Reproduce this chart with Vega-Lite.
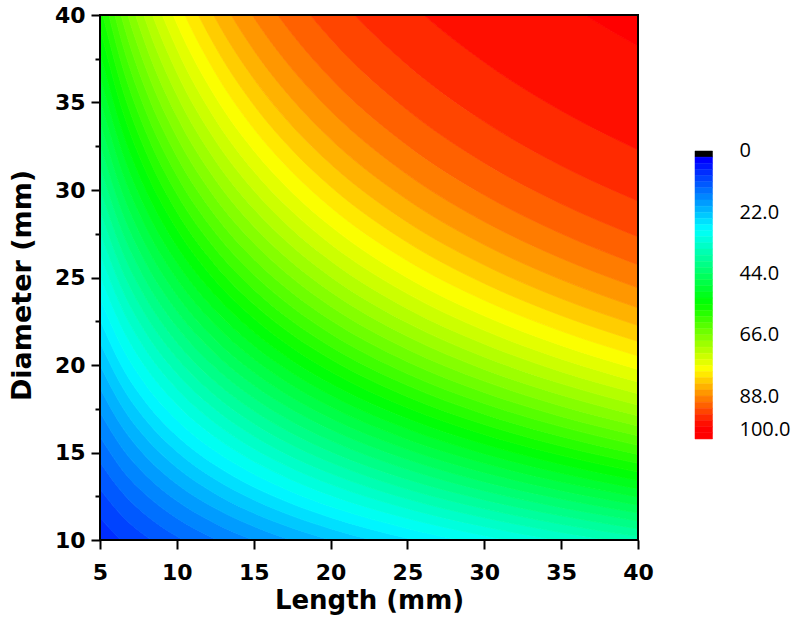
{
"$schema": "https://vega.github.io/schema/vega-lite/v6.json",
"width": 538,
"height": 525,
"autosize": {"type": "none"},
"padding": {"left": 100, "top": 15, "right": 162, "bottom": 104},
"background": "white",
"config": {"view": {"stroke": null}},
"datasets": {
"contours": [
{"level":6.6,"L":5,"D":9.48},{"level":6.6,"L":6.5,"D":8.32},{"level":6.6,"L":8,"D":7.5},{"level":6.6,"L":10,"D":6.7},{"level":6.6,"L":12.5,"D":6.0},{"level":6.6,"L":15,"D":5.47},{"level":6.6,"L":17.5,"D":5.07},{"level":6.6,"L":20,"D":4.74},{"level":6.6,"L":25,"D":4.24},{"level":6.6,"L":30,"D":3.87},{"level":6.6,"L":35,"D":3.58},{"level":6.6,"L":40,"D":3.35},
{"level":8.8,"L":5,"D":11.27},{"level":8.8,"L":6.5,"D":9.88},{"level":8.8,"L":8,"D":8.91},{"level":8.8,"L":10,"D":7.97},{"level":8.8,"L":12.5,"D":7.13},{"level":8.8,"L":15,"D":6.51},{"level":8.8,"L":17.5,"D":6.02},{"level":8.8,"L":20,"D":5.63},{"level":8.8,"L":25,"D":5.04},{"level":8.8,"L":30,"D":4.6},{"level":8.8,"L":35,"D":4.26},{"level":8.8,"L":40,"D":3.98},
{"level":11,"L":5,"D":12.91},{"level":11,"L":6.5,"D":11.32},{"level":11,"L":8,"D":10.21},{"level":11,"L":10,"D":9.13},{"level":11,"L":12.5,"D":8.17},{"level":11,"L":15,"D":7.45},{"level":11,"L":17.5,"D":6.9},{"level":11,"L":20,"D":6.46},{"level":11,"L":25,"D":5.77},{"level":11,"L":30,"D":5.27},{"level":11,"L":35,"D":4.88},{"level":11,"L":40,"D":4.56},
{"level":13.2,"L":5,"D":14.45},{"level":13.2,"L":6.5,"D":12.67},{"level":13.2,"L":8,"D":11.42},{"level":13.2,"L":10,"D":10.21},{"level":13.2,"L":12.5,"D":9.14},{"level":13.2,"L":15,"D":8.34},{"level":13.2,"L":17.5,"D":7.72},{"level":13.2,"L":20,"D":7.22},{"level":13.2,"L":25,"D":6.46},{"level":13.2,"L":30,"D":5.9},{"level":13.2,"L":35,"D":5.46},{"level":13.2,"L":40,"D":5.11},
{"level":15.4,"L":5,"D":15.91},{"level":15.4,"L":6.5,"D":13.95},{"level":15.4,"L":8,"D":12.58},{"level":15.4,"L":10,"D":11.25},{"level":15.4,"L":12.5,"D":10.06},{"level":15.4,"L":15,"D":9.18},{"level":15.4,"L":17.5,"D":8.5},{"level":15.4,"L":20,"D":7.95},{"level":15.4,"L":25,"D":7.11},{"level":15.4,"L":30,"D":6.49},{"level":15.4,"L":35,"D":6.01},{"level":15.4,"L":40,"D":5.62},
{"level":17.6,"L":5,"D":17.31},{"level":17.6,"L":6.5,"D":15.18},{"level":17.6,"L":8,"D":13.69},{"level":17.6,"L":10,"D":12.24},{"level":17.6,"L":12.5,"D":10.95},{"level":17.6,"L":15,"D":9.99},{"level":17.6,"L":17.5,"D":9.25},{"level":17.6,"L":20,"D":8.66},{"level":17.6,"L":25,"D":7.74},{"level":17.6,"L":30,"D":7.07},{"level":17.6,"L":35,"D":6.54},{"level":17.6,"L":40,"D":6.12},
{"level":19.8,"L":5,"D":18.67},{"level":19.8,"L":6.5,"D":16.38},{"level":19.8,"L":8,"D":14.76},{"level":19.8,"L":10,"D":13.2},{"level":19.8,"L":12.5,"D":11.81},{"level":19.8,"L":15,"D":10.78},{"level":19.8,"L":17.5,"D":9.98},{"level":19.8,"L":20,"D":9.34},{"level":19.8,"L":25,"D":8.35},{"level":19.8,"L":30,"D":7.62},{"level":19.8,"L":35,"D":7.06},{"level":19.8,"L":40,"D":6.6},
{"level":22,"L":5,"D":20.0},{"level":22,"L":6.5,"D":17.54},{"level":22,"L":8,"D":15.81},{"level":22,"L":10,"D":14.14},{"level":22,"L":12.5,"D":12.65},{"level":22,"L":15,"D":11.54},{"level":22,"L":17.5,"D":10.69},{"level":22,"L":20,"D":10.0},{"level":22,"L":25,"D":8.94},{"level":22,"L":30,"D":8.16},{"level":22,"L":35,"D":7.56},{"level":22,"L":40,"D":7.07},
{"level":24.2,"L":5,"D":21.3},{"level":24.2,"L":6.5,"D":18.68},{"level":24.2,"L":8,"D":16.84},{"level":24.2,"L":10,"D":15.06},{"level":24.2,"L":12.5,"D":13.47},{"level":24.2,"L":15,"D":12.3},{"level":24.2,"L":17.5,"D":11.38},{"level":24.2,"L":20,"D":10.65},{"level":24.2,"L":25,"D":9.52},{"level":24.2,"L":30,"D":8.69},{"level":24.2,"L":35,"D":8.05},{"level":24.2,"L":40,"D":7.53},
{"level":26.4,"L":5,"D":22.58},{"level":26.4,"L":6.5,"D":19.8},{"level":26.4,"L":8,"D":17.85},{"level":26.4,"L":10,"D":15.96},{"level":26.4,"L":12.5,"D":14.28},{"level":26.4,"L":15,"D":13.03},{"level":26.4,"L":17.5,"D":12.07},{"level":26.4,"L":20,"D":11.29},{"level":26.4,"L":25,"D":10.1},{"level":26.4,"L":30,"D":9.22},{"level":26.4,"L":35,"D":8.53},{"level":26.4,"L":40,"D":7.98},
{"level":28.6,"L":5,"D":23.85},{"level":28.6,"L":6.5,"D":20.91},{"level":28.6,"L":8,"D":18.85},{"level":28.6,"L":10,"D":16.86},{"level":28.6,"L":12.5,"D":15.08},{"level":28.6,"L":15,"D":13.77},{"level":28.6,"L":17.5,"D":12.75},{"level":28.6,"L":20,"D":11.92},{"level":28.6,"L":25,"D":10.66},{"level":28.6,"L":30,"D":9.73},{"level":28.6,"L":35,"D":9.01},{"level":28.6,"L":40,"D":8.43},
{"level":30.8,"L":5,"D":25.1},{"level":30.8,"L":6.5,"D":22.02},{"level":30.8,"L":8,"D":19.84},{"level":30.8,"L":10,"D":17.75},{"level":30.8,"L":12.5,"D":15.88},{"level":30.8,"L":15,"D":14.49},{"level":30.8,"L":17.5,"D":13.42},{"level":30.8,"L":20,"D":12.55},{"level":30.8,"L":25,"D":11.23},{"level":30.8,"L":30,"D":10.25},{"level":30.8,"L":35,"D":9.49},{"level":30.8,"L":40,"D":8.87},
{"level":33,"L":5,"D":26.35},{"level":33,"L":6.5,"D":23.11},{"level":33,"L":8,"D":20.83},{"level":33,"L":10,"D":18.64},{"level":33,"L":12.5,"D":16.67},{"level":33,"L":15,"D":15.22},{"level":33,"L":17.5,"D":14.09},{"level":33,"L":20,"D":13.18},{"level":33,"L":25,"D":11.79},{"level":33,"L":30,"D":10.76},{"level":33,"L":35,"D":9.96},{"level":33,"L":40,"D":9.32},
{"level":35.2,"L":5,"D":27.6},{"level":35.2,"L":6.5,"D":24.21},{"level":35.2,"L":8,"D":21.82},{"level":35.2,"L":10,"D":19.52},{"level":35.2,"L":12.5,"D":17.46},{"level":35.2,"L":15,"D":15.94},{"level":35.2,"L":17.5,"D":14.75},{"level":35.2,"L":20,"D":13.8},{"level":35.2,"L":25,"D":12.34},{"level":35.2,"L":30,"D":11.27},{"level":35.2,"L":35,"D":10.43},{"level":35.2,"L":40,"D":9.76},
{"level":37.4,"L":5,"D":28.85},{"level":37.4,"L":6.5,"D":25.3},{"level":37.4,"L":8,"D":22.81},{"level":37.4,"L":10,"D":20.4},{"level":37.4,"L":12.5,"D":18.25},{"level":37.4,"L":15,"D":16.66},{"level":37.4,"L":17.5,"D":15.42},{"level":37.4,"L":20,"D":14.43},{"level":37.4,"L":25,"D":12.9},{"level":37.4,"L":30,"D":11.78},{"level":37.4,"L":35,"D":10.9},{"level":37.4,"L":40,"D":10.2},
{"level":39.6,"L":5,"D":30.1},{"level":39.6,"L":6.5,"D":26.4},{"level":39.6,"L":8,"D":23.8},{"level":39.6,"L":10,"D":21.29},{"level":39.6,"L":12.5,"D":19.04},{"level":39.6,"L":15,"D":17.38},{"level":39.6,"L":17.5,"D":16.09},{"level":39.6,"L":20,"D":15.05},{"level":39.6,"L":25,"D":13.46},{"level":39.6,"L":30,"D":12.29},{"level":39.6,"L":35,"D":11.38},{"level":39.6,"L":40,"D":10.64},
{"level":41.8,"L":5,"D":31.36},{"level":41.8,"L":6.5,"D":27.51},{"level":41.8,"L":8,"D":24.79},{"level":41.8,"L":10,"D":22.18},{"level":41.8,"L":12.5,"D":19.84},{"level":41.8,"L":15,"D":18.11},{"level":41.8,"L":17.5,"D":16.76},{"level":41.8,"L":20,"D":15.68},{"level":41.8,"L":25,"D":14.03},{"level":41.8,"L":30,"D":12.8},{"level":41.8,"L":35,"D":11.85},{"level":41.8,"L":40,"D":11.09},
{"level":44,"L":5,"D":32.64},{"level":44,"L":6.5,"D":28.62},{"level":44,"L":8,"D":25.8},{"level":44,"L":10,"D":23.08},{"level":44,"L":12.5,"D":20.64},{"level":44,"L":15,"D":18.84},{"level":44,"L":17.5,"D":17.45},{"level":44,"L":20,"D":16.32},{"level":44,"L":25,"D":14.6},{"level":44,"L":30,"D":13.32},{"level":44,"L":35,"D":12.34},{"level":44,"L":40,"D":11.54},
{"level":46.2,"L":5,"D":33.92},{"level":46.2,"L":6.5,"D":29.75},{"level":46.2,"L":8,"D":26.82},{"level":46.2,"L":10,"D":23.99},{"level":46.2,"L":12.5,"D":21.45},{"level":46.2,"L":15,"D":19.58},{"level":46.2,"L":17.5,"D":18.13},{"level":46.2,"L":20,"D":16.96},{"level":46.2,"L":25,"D":15.17},{"level":46.2,"L":30,"D":13.85},{"level":46.2,"L":35,"D":12.82},{"level":46.2,"L":40,"D":11.99},
{"level":48.4,"L":5,"D":35.23},{"level":48.4,"L":6.5,"D":30.9},{"level":48.4,"L":8,"D":27.85},{"level":48.4,"L":10,"D":24.91},{"level":48.4,"L":12.5,"D":22.28},{"level":48.4,"L":15,"D":20.34},{"level":48.4,"L":17.5,"D":18.83},{"level":48.4,"L":20,"D":17.61},{"level":48.4,"L":25,"D":15.75},{"level":48.4,"L":30,"D":14.38},{"level":48.4,"L":35,"D":13.31},{"level":48.4,"L":40,"D":12.45},
{"level":50.6,"L":5,"D":36.55},{"level":50.6,"L":6.5,"D":32.05},{"level":50.6,"L":8,"D":28.89},{"level":50.6,"L":10,"D":25.84},{"level":50.6,"L":12.5,"D":23.11},{"level":50.6,"L":15,"D":21.1},{"level":50.6,"L":17.5,"D":19.54},{"level":50.6,"L":20,"D":18.27},{"level":50.6,"L":25,"D":16.34},{"level":50.6,"L":30,"D":14.92},{"level":50.6,"L":35,"D":13.81},{"level":50.6,"L":40,"D":12.92},
{"level":52.8,"L":5,"D":37.89},{"level":52.8,"L":6.5,"D":33.23},{"level":52.8,"L":8,"D":29.96},{"level":52.8,"L":10,"D":26.79},{"level":52.8,"L":12.5,"D":23.97},{"level":52.8,"L":15,"D":21.88},{"level":52.8,"L":17.5,"D":20.25},{"level":52.8,"L":20,"D":18.95},{"level":52.8,"L":25,"D":16.95},{"level":52.8,"L":30,"D":15.47},{"level":52.8,"L":35,"D":14.32},{"level":52.8,"L":40,"D":13.4},
{"level":55,"L":5,"D":39.27},{"level":55,"L":6.5,"D":34.44},{"level":55,"L":8,"D":31.04},{"level":55,"L":10,"D":27.77},{"level":55,"L":12.5,"D":24.83},{"level":55,"L":15,"D":22.67},{"level":55,"L":17.5,"D":20.99},{"level":55,"L":20,"D":19.63},{"level":55,"L":25,"D":17.56},{"level":55,"L":30,"D":16.03},{"level":55,"L":35,"D":14.84},{"level":55,"L":40,"D":13.88},
{"level":57.2,"L":5,"D":40.67},{"level":57.2,"L":6.5,"D":35.67},{"level":57.2,"L":8,"D":32.16},{"level":57.2,"L":10,"D":28.76},{"level":57.2,"L":12.5,"D":25.72},{"level":57.2,"L":15,"D":23.48},{"level":57.2,"L":17.5,"D":21.74},{"level":57.2,"L":20,"D":20.34},{"level":57.2,"L":25,"D":18.19},{"level":57.2,"L":30,"D":16.6},{"level":57.2,"L":35,"D":15.37},{"level":57.2,"L":40,"D":14.38},
{"level":59.4,"L":5,"D":42.12},{"level":59.4,"L":6.5,"D":36.94},{"level":59.4,"L":8,"D":33.3},{"level":59.4,"L":10,"D":29.78},{"level":59.4,"L":12.5,"D":26.64},{"level":59.4,"L":15,"D":24.32},{"level":59.4,"L":17.5,"D":22.51},{"level":59.4,"L":20,"D":21.06},{"level":59.4,"L":25,"D":18.84},{"level":59.4,"L":30,"D":17.19},{"level":59.4,"L":35,"D":15.92},{"level":59.4,"L":40,"D":14.89},
{"level":61.6,"L":5,"D":43.6},{"level":61.6,"L":6.5,"D":38.24},{"level":61.6,"L":8,"D":34.47},{"level":61.6,"L":10,"D":30.83},{"level":61.6,"L":12.5,"D":27.57},{"level":61.6,"L":15,"D":25.17},{"level":61.6,"L":17.5,"D":23.31},{"level":61.6,"L":20,"D":21.8},{"level":61.6,"L":25,"D":19.5},{"level":61.6,"L":30,"D":17.8},{"level":61.6,"L":35,"D":16.48},{"level":61.6,"L":40,"D":15.41},
{"level":63.8,"L":5,"D":45.14},{"level":63.8,"L":6.5,"D":39.59},{"level":63.8,"L":8,"D":35.68},{"level":63.8,"L":10,"D":31.92},{"level":63.8,"L":12.5,"D":28.55},{"level":63.8,"L":15,"D":26.06},{"level":63.8,"L":17.5,"D":24.13},{"level":63.8,"L":20,"D":22.57},{"level":63.8,"L":25,"D":20.19},{"level":63.8,"L":30,"D":18.43},{"level":63.8,"L":35,"D":17.06},{"level":63.8,"L":40,"D":15.96},
{"level":66,"L":5,"D":46.72},{"level":66,"L":6.5,"D":40.98},{"level":66,"L":8,"D":36.94},{"level":66,"L":10,"D":33.04},{"level":66,"L":12.5,"D":29.55},{"level":66,"L":15,"D":26.98},{"level":66,"L":17.5,"D":24.98},{"level":66,"L":20,"D":23.36},{"level":66,"L":25,"D":20.9},{"level":66,"L":30,"D":19.08},{"level":66,"L":35,"D":17.66},{"level":66,"L":40,"D":16.52},
{"level":68.2,"L":5,"D":48.38},{"level":68.2,"L":6.5,"D":42.43},{"level":68.2,"L":8,"D":38.25},{"level":68.2,"L":10,"D":34.21},{"level":68.2,"L":12.5,"D":30.6},{"level":68.2,"L":15,"D":27.93},{"level":68.2,"L":17.5,"D":25.86},{"level":68.2,"L":20,"D":24.19},{"level":68.2,"L":25,"D":21.64},{"level":68.2,"L":30,"D":19.75},{"level":68.2,"L":35,"D":18.29},{"level":68.2,"L":40,"D":17.1},
{"level":70.4,"L":5,"D":50.11},{"level":70.4,"L":6.5,"D":43.95},{"level":70.4,"L":8,"D":39.61},{"level":70.4,"L":10,"D":35.43},{"level":70.4,"L":12.5,"D":31.69},{"level":70.4,"L":15,"D":28.93},{"level":70.4,"L":17.5,"D":26.78},{"level":70.4,"L":20,"D":25.05},{"level":70.4,"L":25,"D":22.41},{"level":70.4,"L":30,"D":20.46},{"level":70.4,"L":35,"D":18.94},{"level":70.4,"L":40,"D":17.71},
{"level":72.6,"L":5,"D":51.92},{"level":72.6,"L":6.5,"D":45.54},{"level":72.6,"L":8,"D":41.05},{"level":72.6,"L":10,"D":36.71},{"level":72.6,"L":12.5,"D":32.84},{"level":72.6,"L":15,"D":29.98},{"level":72.6,"L":17.5,"D":27.75},{"level":72.6,"L":20,"D":25.96},{"level":72.6,"L":25,"D":23.22},{"level":72.6,"L":30,"D":21.2},{"level":72.6,"L":35,"D":19.62},{"level":72.6,"L":40,"D":18.36},
{"level":74.8,"L":5,"D":53.84},{"level":74.8,"L":6.5,"D":47.22},{"level":74.8,"L":8,"D":42.56},{"level":74.8,"L":10,"D":38.07},{"level":74.8,"L":12.5,"D":34.05},{"level":74.8,"L":15,"D":31.08},{"level":74.8,"L":17.5,"D":28.78},{"level":74.8,"L":20,"D":26.92},{"level":74.8,"L":25,"D":24.08},{"level":74.8,"L":30,"D":21.98},{"level":74.8,"L":35,"D":20.35},{"level":74.8,"L":40,"D":19.03},
{"level":77,"L":5,"D":55.87},{"level":77,"L":6.5,"D":49.0},{"level":77,"L":8,"D":44.17},{"level":77,"L":10,"D":39.51},{"level":77,"L":12.5,"D":35.34},{"level":77,"L":15,"D":32.26},{"level":77,"L":17.5,"D":29.86},{"level":77,"L":20,"D":27.94},{"level":77,"L":25,"D":24.99},{"level":77,"L":30,"D":22.81},{"level":77,"L":35,"D":21.12},{"level":77,"L":40,"D":19.75},
{"level":79.2,"L":5,"D":58.05},{"level":79.2,"L":6.5,"D":50.91},{"level":79.2,"L":8,"D":45.89},{"level":79.2,"L":10,"D":41.05},{"level":79.2,"L":12.5,"D":36.71},{"level":79.2,"L":15,"D":33.51},{"level":79.2,"L":17.5,"D":31.03},{"level":79.2,"L":20,"D":29.02},{"level":79.2,"L":25,"D":25.96},{"level":79.2,"L":30,"D":23.7},{"level":79.2,"L":35,"D":21.94},{"level":79.2,"L":40,"D":20.52},
{"level":81.4,"L":5,"D":60.4},{"level":81.4,"L":6.5,"D":52.97},{"level":81.4,"L":8,"D":47.75},{"level":81.4,"L":10,"D":42.71},{"level":81.4,"L":12.5,"D":38.2},{"level":81.4,"L":15,"D":34.87},{"level":81.4,"L":17.5,"D":32.29},{"level":81.4,"L":20,"D":30.2},{"level":81.4,"L":25,"D":27.01},{"level":81.4,"L":30,"D":24.66},{"level":81.4,"L":35,"D":22.83},{"level":81.4,"L":40,"D":21.35},
{"level":83.6,"L":5,"D":62.97},{"level":83.6,"L":6.5,"D":55.23},{"level":83.6,"L":8,"D":49.78},{"level":83.6,"L":10,"D":44.53},{"level":83.6,"L":12.5,"D":39.83},{"level":83.6,"L":15,"D":36.36},{"level":83.6,"L":17.5,"D":33.66},{"level":83.6,"L":20,"D":31.49},{"level":83.6,"L":25,"D":28.16},{"level":83.6,"L":30,"D":25.71},{"level":83.6,"L":35,"D":23.8},{"level":83.6,"L":40,"D":22.26},
{"level":85.8,"L":5,"D":65.83},{"level":85.8,"L":6.5,"D":57.73},{"level":85.8,"L":8,"D":52.04},{"level":85.8,"L":10,"D":46.55},{"level":85.8,"L":12.5,"D":41.63},{"level":85.8,"L":15,"D":38.0},{"level":85.8,"L":17.5,"D":35.19},{"level":85.8,"L":20,"D":32.91},{"level":85.8,"L":25,"D":29.44},{"level":85.8,"L":30,"D":26.87},{"level":85.8,"L":35,"D":24.88},{"level":85.8,"L":40,"D":23.27},
{"level":88,"L":5,"D":69.05},{"level":88,"L":6.5,"D":60.56},{"level":88,"L":8,"D":54.59},{"level":88,"L":10,"D":48.83},{"level":88,"L":12.5,"D":43.67},{"level":88,"L":15,"D":39.87},{"level":88,"L":17.5,"D":36.91},{"level":88,"L":20,"D":34.53},{"level":88,"L":25,"D":30.88},{"level":88,"L":30,"D":28.19},{"level":88,"L":35,"D":26.1},{"level":88,"L":40,"D":24.41},
{"level":90.2,"L":5,"D":72.79},{"level":90.2,"L":6.5,"D":63.84},{"level":90.2,"L":8,"D":57.54},{"level":90.2,"L":10,"D":51.47},{"level":90.2,"L":12.5,"D":46.04},{"level":90.2,"L":15,"D":42.02},{"level":90.2,"L":17.5,"D":38.91},{"level":90.2,"L":20,"D":36.39},{"level":90.2,"L":25,"D":32.55},{"level":90.2,"L":30,"D":29.71},{"level":90.2,"L":35,"D":27.51},{"level":90.2,"L":40,"D":25.73},
{"level":92.4,"L":5,"D":77.29},{"level":92.4,"L":6.5,"D":67.79},{"level":92.4,"L":8,"D":61.1},{"level":92.4,"L":10,"D":54.65},{"level":92.4,"L":12.5,"D":48.88},{"level":92.4,"L":15,"D":44.63},{"level":92.4,"L":17.5,"D":41.32},{"level":92.4,"L":20,"D":38.65},{"level":92.4,"L":25,"D":34.57},{"level":92.4,"L":30,"D":31.55},{"level":92.4,"L":35,"D":29.21},{"level":92.4,"L":40,"D":27.33},
{"level":94.6,"L":5,"D":83.06},{"level":94.6,"L":6.5,"D":72.85},{"level":94.6,"L":8,"D":65.67},{"level":94.6,"L":10,"D":58.73},{"level":94.6,"L":12.5,"D":52.53},{"level":94.6,"L":15,"D":47.96},{"level":94.6,"L":17.5,"D":44.4},{"level":94.6,"L":20,"D":41.53},{"level":94.6,"L":25,"D":37.15},{"level":94.6,"L":30,"D":33.91},{"level":94.6,"L":35,"D":31.39},{"level":94.6,"L":40,"D":29.37},
{"level":96.8,"L":5,"D":91.37},{"level":96.8,"L":6.5,"D":80.13},{"level":96.8,"L":8,"D":72.23},{"level":96.8,"L":10,"D":64.61},{"level":96.8,"L":12.5,"D":57.78},{"level":96.8,"L":15,"D":52.75},{"level":96.8,"L":17.5,"D":48.84},{"level":96.8,"L":20,"D":45.68},{"level":96.8,"L":25,"D":40.86},{"level":96.8,"L":30,"D":37.3},{"level":96.8,"L":35,"D":34.53},{"level":96.8,"L":40,"D":32.3},
{"level":99,"L":5,"D":108.11},{"level":99,"L":6.5,"D":94.82},{"level":99,"L":8,"D":85.47},{"level":99,"L":10,"D":76.45},{"level":99,"L":12.5,"D":68.38},{"level":99,"L":15,"D":62.42},{"level":99,"L":17.5,"D":57.79},{"level":99,"L":20,"D":54.06},{"level":99,"L":25,"D":48.35},{"level":99,"L":30,"D":44.14},{"level":99,"L":35,"D":40.86},{"level":99,"L":40,"D":38.22},
{"level":101.2,"L":5,"D":200},{"level":101.2,"L":6.5,"D":200},{"level":101.2,"L":8,"D":200},{"level":101.2,"L":10,"D":200},{"level":101.2,"L":12.5,"D":200},{"level":101.2,"L":15,"D":200},{"level":101.2,"L":17.5,"D":200},{"level":101.2,"L":20,"D":200},{"level":101.2,"L":25,"D":200},{"level":101.2,"L":30,"D":200},{"level":101.2,"L":35,"D":200},{"level":101.2,"L":40,"D":200}
],
"colorbar": [
{"level":0,"top":2.2},{"level":2.2,"top":4.4},{"level":4.4,"top":6.6},{"level":6.6,"top":8.8},{"level":8.8,"top":11},{"level":11,"top":13.2},{"level":13.2,"top":15.4},{"level":15.4,"top":17.6},{"level":17.6,"top":19.8},{"level":19.8,"top":22},{"level":22,"top":24.2},{"level":24.2,"top":26.4},{"level":26.4,"top":28.6},{"level":28.6,"top":30.8},{"level":30.8,"top":33},{"level":33,"top":35.2},{"level":35.2,"top":37.4},{"level":37.4,"top":39.6},{"level":39.6,"top":41.8},{"level":41.8,"top":44},{"level":44,"top":46.2},{"level":46.2,"top":48.4},{"level":48.4,"top":50.6},{"level":50.6,"top":52.8},{"level":52.8,"top":55},{"level":55,"top":57.2},{"level":57.2,"top":59.4},{"level":59.4,"top":61.6},{"level":61.6,"top":63.8},{"level":63.8,"top":66},{"level":66,"top":68.2},{"level":68.2,"top":70.4},{"level":70.4,"top":72.6},{"level":72.6,"top":74.8},{"level":74.8,"top":77},{"level":77,"top":79.2},{"level":79.2,"top":81.4},{"level":81.4,"top":83.6},{"level":83.6,"top":85.8},{"level":85.8,"top":88},{"level":88,"top":90.2},{"level":90.2,"top":92.4},{"level":92.4,"top":94.6},{"level":94.6,"top":96.8},{"level":96.8,"top":99},{"level":99,"top":101.2},{"level":101.2,"top":103.4}
]
},
"layer": [
{
"layer": [
{
"data": {"name": "contours"},
"transform": [
{"window": [{"op": "lead", "field": "D", "as": "D2"}], "groupby": ["L"], "sort": [{"field": "level", "order": "ascending"}]},
{"filter": "datum.D2 != null"}
],
"mark": {"type": "area", "interpolate": "monotone", "clip": true, "strokeWidth": 0.8},
"encoding": {
"x": {"field": "L", "type": "quantitative", "scale": {"domain": [5, 40], "nice": false, "zero": false},
"axis": {"title": "Length (mm)", "values": [5,7.5,10,12.5,15,17.5,20,22.5,25,27.5,30,32.5,35,37.5,40],
"labelExpr": "datum.value % 5 === 0 ? datum.label : ''",
"tickSize": {"condition": {"test": "datum.value % 5 === 0", "value": 9}, "value": 5},
"tickWidth": 2, "tickColor": "black", "domain": false, "grid": false, "labelFlush": false, "labelOverlap": false, "labelBound": false,
"labelFont": "DejaVu Sans", "labelFontWeight": "bold", "labelFontSize": 22, "labelColor": "black", "labelPadding": 13,
"titleFont": "DejaVu Sans", "titleFontSize": 26, "titleFontWeight": "bold", "titleColor": "black", "titlePadding": 4, "zindex": 1}},
"y": {"field": "D", "type": "quantitative", "stack": null, "scale": {"domain": [10, 40], "nice": false, "zero": false},
"axis": {"title": "Diameter (mm)", "values": [10,12.5,15,17.5,20,22.5,25,27.5,30,32.5,35,37.5,40],
"labelExpr": "datum.value % 5 === 0 ? datum.label : ''",
"tickSize": {"condition": {"test": "datum.value % 5 === 0", "value": 9}, "value": 5},
"tickWidth": 2, "tickColor": "black", "domain": false, "grid": false, "labelFlush": false, "labelOverlap": false, "labelBound": false,
"labelFont": "DejaVu Sans", "labelFontWeight": "bold", "labelFontSize": 22, "labelColor": "black", "labelPadding": 6,
"titleFont": "DejaVu Sans", "titleFontSize": 27, "titleFontWeight": "bold", "titleColor": "black", "titlePadding": 18, "titleY": 270, "zindex": 1}},
"y2": {"field": "D2"},
"detail": {"field": "level", "type": "nominal"},
"color": {"field": "level", "type": "quantitative", "legend": null,
"scale": {"type": "linear", "domain": [0, 2.2, 27.3, 53.5, 77.4, 98], "range": ["#000000", "#0000ff", "#00ffff", "#00ff00", "#ffff00", "#ff0000"], "interpolate": "rgb", "clamp": true}},
"stroke": {"field": "level", "type": "quantitative", "legend": null,
"scale": {"type": "linear", "domain": [0, 2.2, 27.3, 53.5, 77.4, 98], "range": ["#000000", "#0000ff", "#00ffff", "#00ff00", "#ffff00", "#ff0000"], "interpolate": "rgb", "clamp": true}}
}
},
{
"data": {"values": [{"x1": 5, "x2": 40, "y1": 10, "y2": 40}]},
"mark": {"type": "rect", "fill": null, "fillOpacity": 0, "stroke": "black", "strokeWidth": 2},
"encoding": {
"x": {"field": "x1", "type": "quantitative"},
"x2": {"field": "x2"},
"y": {"field": "y1", "type": "quantitative"},
"y2": {"field": "y2"}
}
}
]
},
{
"data": {"name": "colorbar"},
"mark": {"type": "rect", "strokeWidth": 0.5},
"encoding": {
"x": {"datum": 0, "type": "quantitative", "scale": {"domain": [-34, -3.257], "nice": false, "zero": false}, "axis": null},
"x2": {"datum": 1},
"y": {"field": "level", "type": "quantitative", "scale": {"domain": [-48.83, 139.68], "reverse": true, "nice": false, "zero": false},
"axis": {"orient": "right", "title": null, "values": [0, 22, 44, 66, 88, 100],
"labelExpr": "datum.value === 0 ? '0' : format(datum.value, '.1f')",
"ticks": false, "tickSize": 0, "domain": false, "grid": false, "offset": 101, "labelPadding": 0,
"labelFlush": false, "labelOverlap": false, "labelBound": false,
"labelFont": "Open Sans", "labelFontSize": 20, "labelColor": "black"}},
"y2": {"field": "top"},
"color": {"field": "level", "type": "quantitative", "legend": null,
"scale": {"type": "linear", "domain": [0, 2.2, 27.3, 53.5, 77.4, 98], "range": ["#000000", "#0000ff", "#00ffff", "#00ff00", "#ffff00", "#ff0000"], "interpolate": "rgb", "clamp": true}},
"stroke": {"field": "level", "type": "quantitative", "legend": null,
"scale": {"type": "linear", "domain": [0, 2.2, 27.3, 53.5, 77.4, 98], "range": ["#000000", "#0000ff", "#00ffff", "#00ff00", "#ffff00", "#ff0000"], "interpolate": "rgb", "clamp": true}}
}
}
],
"resolve": {"scale": {"x": "independent", "y": "independent"}, "axis": {"x": "independent", "y": "independent"}}
}
